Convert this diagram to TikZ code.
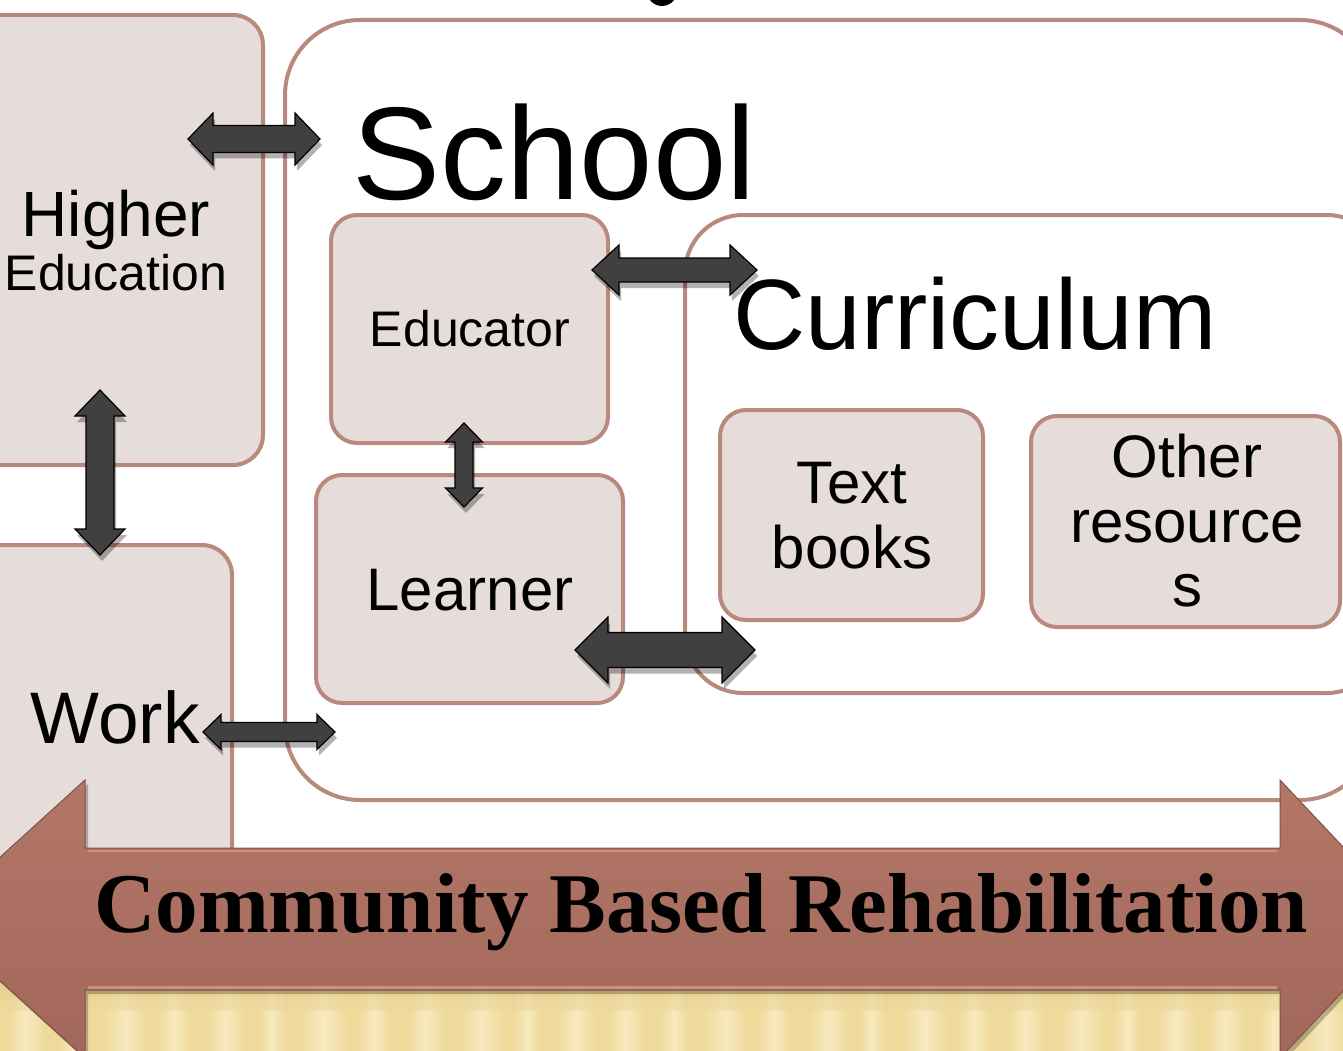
\documentclass[tikz,border=0pt]{standalone}
\usepackage{fontspec}
\setmainfont{Liberation Sans}
\newfontfamily\cbrfont{Liberation Serif}
\usetikzlibrary{calc,shadows}
\definecolor{boxfill}{HTML}{E6DDDB}
\definecolor{boxline}{HTML}{B8897C}
\definecolor{arrowfill}{HTML}{404040}
\definecolor{cbrtop}{HTML}{B27767}
\definecolor{cbrbot}{HTML}{A1675A}
\definecolor{cbrlight}{HTML}{CF8E80}
\definecolor{gold}{HTML}{EFDA9C}
\definecolor{goldlight}{HTML}{F8EABF}
\definecolor{golddark}{HTML}{DCC27A}
\tikzset{
  pinkbox/.style={draw=boxline, line width=4pt, fill=boxfill, rounded corners=#1, inner sep=0pt},
  pinkbox/.default=26pt,
  whitebox/.style={draw=boxline, line width=4pt, fill=white, rounded corners=#1, inner sep=0pt},
  blockarrow/.style={fill=arrowfill, draw=black, line width=1.2pt, line join=miter,
    drop shadow={opacity=0.3, shadow xshift=2pt, shadow yshift=-6pt, fill=black}},
  cbrarrow/.style={top color=cbrtop, bottom color=cbrbot, draw=cbrbot!80!black, line width=1pt,
    drop shadow={opacity=0.25, shadow xshift=3pt, shadow yshift=-4pt, fill=black}},
  lbl/.style={anchor=base, inner sep=0pt, text=black},
}
% horizontal double block arrow: #1 left tip, #2 right tip, #3 half shaft, #4 half head, #5 head length
\newcommand\hdbl[5]{\path[blockarrow] let \p1=(#1), \p2=(#2) in
  (\x1,\y1) -- (\x1+#5,\y1+#4) -- (\x1+#5,\y1+#3) -- (\x2-#5,\y1+#3) -- (\x2-#5,\y1+#4) -- (\x2,\y1)
  -- (\x2-#5,\y1-#4) -- (\x2-#5,\y1-#3) -- (\x1+#5,\y1-#3) -- (\x1+#5,\y1-#4) -- cycle;}
% vertical double block arrow: #1 top tip, #2 bottom tip
\newcommand\vdbl[5]{\path[blockarrow] let \p1=(#1), \p2=(#2) in
  (\x1,\y1) -- (\x1+#4,\y1-#5) -- (\x1+#3,\y1-#5) -- (\x1+#3,\y2+#5) -- (\x1+#4,\y2+#5) -- (\x1,\y2)
  -- (\x1-#4,\y2+#5) -- (\x1-#3,\y2+#5) -- (\x1-#3,\y1-#5) -- (\x1-#4,\y1-#5) -- cycle;}
\begin{document}
\begin{tikzpicture}[x=1pt,y=-1pt]
\useasboundingbox (0,0) rectangle (1343,1051);
\clip (0,0) rectangle (1343,1051);
\fill[white] (0,0) rectangle (1343,1051);
% golden background band
\fill[gold] (-10,972) rectangle (1353,1061);
\foreach \x/\w in {0/18,52/14,95/22,150/16,198/20,250/14,292/24,350/16,400/18,452/22,505/14,548/20,600/18,652/14,695/22,750/16,800/20,850/14,893/24,950/16,1000/18,1052/22,1105/14,1148/20,1200/18,1252/14,1295/22}
  \shade[left color=gold, right color=gold, middle color=goldlight] (\x+8,972) rectangle (\x+8+2*\w,1061);
\shade[top color=golddark, bottom color=gold, opacity=0.6] (-10,972) rectangle (1353,1010);
% cut-off glyph at the top
\fill[black] (650,0) .. controls (656,8) and (668,8) .. (674,0) -- cycle;
% boxes
\node[pinkbox=30pt, minimum width=303pt, minimum height=450pt] (he) at (111.5,240) {};
\node[pinkbox=30pt, minimum width=272pt, minimum height=415pt] (work) at (96,752.5) {};
\node[whitebox=75pt, minimum width=1090pt, minimum height=780pt] (school) at (830,410) {};
\node[whitebox=58pt, minimum width=700pt, minimum height=478pt] (curr) at (1035,454) {};
\node[pinkbox, minimum width=277pt, minimum height=228pt] (edu) at (469.5,329) {};
\node[pinkbox, minimum width=307pt, minimum height=228pt] (learn) at (469.5,589) {};
\node[pinkbox, minimum width=263pt, minimum height=210pt] (tb) at (851.5,515) {};
\node[pinkbox, minimum width=309pt, minimum height=211pt] (other) at (1185.5,521.5) {};
% texts
\node[lbl, font=\fontsize{64}{64}\selectfont] (t-higher) at (116,236) {Higher};
\node[lbl, font=\fontsize{50}{50}\selectfont] (t-edu2) at (116,290) {Education};
\node[lbl, font=\fontsize{132}{132}\selectfont] (t-school) at (554,200) {School};
\node[lbl, font=\fontsize{100}{100}\selectfont] (t-curr) at (975,349) {Curriculum};
\node[lbl, font=\fontsize{50}{50}\selectfont] (t-educator) at (470,346) {Educator};
\node[lbl, font=\fontsize{60}{60}\selectfont] (t-learner) at (470,610) {Learner};
\node[lbl, font=\fontsize{73}{73}\selectfont] (t-work) at (115,743) {Work};
\node[lbl, font=\fontsize{60}{60}\selectfont] (t-text) at (852,503) {Text};
\node[lbl, font=\fontsize{60}{60}\selectfont] (t-books) at (852,568) {books};
\node[lbl, font=\fontsize{60}{60}\selectfont] (t-other) at (1187,477) {Other};
\node[lbl, font=\fontsize{60}{60}\selectfont] (t-res) at (1187,542) {resource};
\node[lbl, font=\fontsize{60}{60}\selectfont] (t-s) at (1187,606) {s};
% connector end points
\coordinate (a1l) at (188,139); \coordinate (a1r) at (320,139);
\coordinate (a2l) at (592,270); \coordinate (a2r) at (757,270);
\coordinate (a3t) at (464,423); \coordinate (a3b) at (464,507);
\coordinate (a4t) at (100,390); \coordinate (a4b) at (100,555);
\coordinate (a5l) at (575,650); \coordinate (a5r) at (755,650);
\coordinate (a6l) at (203,732); \coordinate (a6r) at (335,732);
\hdbl{a1l}{a1r}{13.5pt}{26pt}{25pt}
\hdbl{a2l}{a2r}{12pt}{25pt}{27pt}
\vdbl{a3t}{a3b}{9pt}{18.5pt}{19pt}
\vdbl{a4t}{a4b}{14pt}{25pt}{26pt}
\hdbl{a5l}{a5r}{17.5pt}{33pt}{33pt}
\hdbl{a6l}{a6r}{9.5pt}{17.5pt}{18pt}
% big community arrow
\path[cbrarrow] (-68,919) -- (85,780) -- (85,848) -- (1280,848) -- (1280,780) -- (1411,919)
  -- (1280,1058) -- (1280,990) -- (85,990) -- (85,1058) -- cycle;
\draw[cbrlight, line width=3pt] (88,987) -- (1277,987);
\draw[cbrlight, line width=2pt] (88,851) -- (1277,851);
\node[lbl, font=\cbrfont\bfseries\fontsize{85}{85}\selectfont] (cbr) at (701,932) {Community Based Rehabilitation};
\end{tikzpicture}
\end{document}
